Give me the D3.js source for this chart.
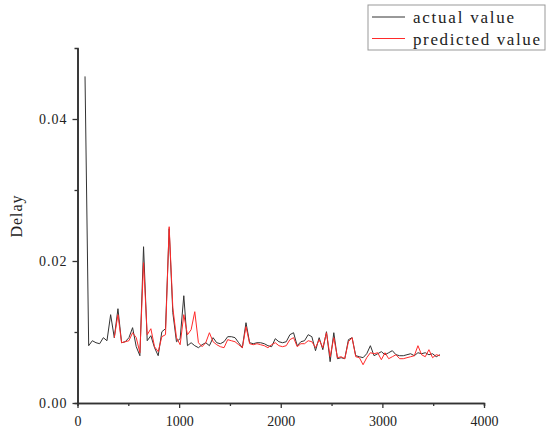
<!DOCTYPE html>
<html>
<head>
<meta charset="utf-8">
<script src="https://cdn.jsdelivr.net/npm/d3@7"></script>
<style>
  body { margin: 0; background: #fff; }
  text { font-family: "Liberation Serif", "DejaVu Serif", serif; fill: #222; }
</style>
</head>
<body>
<div id="chart"></div>
<script>
// x positions of the samples
var xValues = [74,110,146,182,218,254,290,326,362,398,434,470,506,542,578,614,650,686,722,758,
  794,830,866,902,938,974,1010,1046,1082,1118,1154,1190,1226,1262,1298,1334,1370,1406,1442,1478,
  1514,1550,1586,1622,1658,1694,1730,1766,1802,1838,1874,1910,1946,1982,2018,2054,2090,2126,2162,2198,
  2234,2270,2306,2342,2378,2414,2450,2486,2522,2558,2594,2630,2666,2702,2738,2774,2810,2846,2882,2918,
  2954,2990,3026,3062,3098,3134,3170,3206,3242,3278,3314,3350,3386,3422,3458,3494,3530,3566];

// actual value (black)
var actualValues = [0.0460,0.00807,0.00877,0.00849,0.00835,0.00920,0.00877,0.01244,0.00920,0.01328,
  0.00849,0.00863,0.00920,0.01061,0.00793,0.00666,0.02201,0.00877,0.00948,0.00779,
  0.00666,0.01004,0.01046,0.02455,0.01272,0.00863,0.00906,0.01511,0.00807,0.00849,
  0.00807,0.00779,0.00821,0.00849,0.00807,0.00920,0.00849,0.00835,0.00863,0.00934,
  0.00934,0.00920,0.00849,0.00779,0.01131,0.00849,0.00835,0.00849,0.00849,0.00835,
  0.00807,0.00793,0.00906,0.00863,0.00849,0.00863,0.00962,0.00990,0.00807,0.00863,
  0.00877,0.00962,0.00934,0.00737,0.00920,0.00751,0.01004,0.00582,0.00990,0.00624,
  0.00638,0.00624,0.00892,0.00920,0.00666,0.00652,0.00638,0.00694,0.00807,0.00666,
  0.00694,0.00723,0.00680,0.00708,0.00737,0.00680,0.00666,0.00666,0.00680,0.00694,
  0.00666,0.00708,0.00694,0.00708,0.00680,0.00694,0.00652,0.00680];

// predicted value (red), starts at the 9th sample
var predictedValues = [null,null,null,null,null,null,null,null,0.00920,0.01244,
  0.00849,0.00863,0.00877,0.00990,0.00920,0.00708,0.01976,0.00962,0.01046,0.00793,
  0.00723,0.00934,0.00962,0.02483,0.01342,0.00920,0.00821,0.01244,0.00962,0.01032,
  0.01286,0.00849,0.00793,0.00849,0.00990,0.00863,0.00821,0.00793,0.00779,0.00892,
  0.00877,0.00863,0.00821,0.00779,0.01075,0.00835,0.00821,0.00835,0.00821,0.00807,
  0.00779,0.00821,0.00849,0.00807,0.00793,0.00807,0.00892,0.00920,0.00793,0.00835,
  0.00835,0.00877,0.00863,0.00779,0.00892,0.00779,0.00990,0.00652,0.00920,0.00638,
  0.00652,0.00624,0.00863,0.00920,0.00652,0.00638,0.00539,0.00638,0.00708,0.00694,
  0.00708,0.00610,0.00708,0.00624,0.00652,0.00680,0.00624,0.00624,0.00638,0.00652,
  0.00666,0.00807,0.00680,0.00652,0.00751,0.00638,0.00680,0.00666];

var xTicks = [0, 1000, 2000, 3000, 4000];
var xMinorTicks = [500, 1500, 2500, 3500];
var yTicks = [0, 0.02, 0.04];
var yMinorTicks = [0.01, 0.03];
var seriesNames = ["actual value", "predicted value"];
var seriesColors = ["#333333", "#ff2a2a"];

var width = 550, height = 436;
var margin = {top: 48, right: 66, bottom: 33, left: 77.5};
var innerW = width - margin.left - margin.right;
var innerH = height - margin.top - margin.bottom;

var svg = d3.select("#chart").append("svg")
  .attr("width", width)
  .attr("height", height);

var g = svg.append("g")
  .attr("transform", "translate(" + margin.left + "," + margin.top + ")");

var x = d3.scaleLinear().domain([0, 4000]).range([0, innerW]);
var y = d3.scaleLinear().domain([0, 0.05]).range([innerH, 0]);

// minor ticks
g.append("g")
  .attr("class", "axis")
  .attr("transform", "translate(0," + innerH + ")")
  .call(d3.axisBottom(x).tickValues(xMinorTicks).tickSize(3).tickFormat(""));
g.append("g")
  .attr("class", "axis")
  .call(d3.axisLeft(y).tickValues(yMinorTicks).tickSize(3).tickFormat(""));

// major ticks
g.append("g")
  .attr("class", "axis")
  .attr("transform", "translate(0," + innerH + ")")
  .call(d3.axisBottom(x).tickValues(xTicks).tickSize(5).tickSizeOuter(0).tickPadding(8).tickFormat(d3.format("d")))
  .selectAll("text")
  .attr("font-size", "14px");

g.append("g")
  .attr("class", "axis")
  .call(d3.axisLeft(y).tickValues(yTicks).tickSize(5).tickSizeOuter(0).tickPadding(5).tickFormat(d3.format(".2f")))
  .selectAll("text")
  .attr("font-size", "14px")
  .attr("letter-spacing", "1px");

g.selectAll(".axis path.domain").attr("stroke", "#333").attr("stroke-width", 1.6);
g.selectAll(".axis .tick line").attr("stroke", "#333").attr("stroke-width", 1.3);
g.selectAll(".axis text").attr("fill", "#222").attr("font-family", "Liberation Serif");

// lines
var allSeries = [actualValues, predictedValues];
allSeries.forEach(function(vals, k) {
  var line = d3.line()
    .defined(function(d, i) { return vals[i] != null; })
    .x(function(d, i) { return x(xValues[i]); })
    .y(function(d, i) { return y(vals[i]); });
  g.append("path")
    .datum(vals)
    .attr("fill", "none")
    .attr("stroke", seriesColors[k])
    .attr("stroke-width", 1)
    .attr("d", line);
});

// y axis title
svg.append("text")
  .attr("transform", "translate(22," + 216 + ") rotate(-90)")
  .attr("text-anchor", "middle")
  .attr("font-size", "16px")
  .attr("letter-spacing", "1px")
  .text("Delay");

// legend
var legend = svg.append("g").attr("transform", "translate(368,5)");
legend.append("rect")
  .attr("width", 177).attr("height", 45)
  .attr("fill", "#fff")
  .attr("stroke", "#999").attr("stroke-width", 1);
var textLengths = [101, 127];
seriesNames.forEach(function(name, k) {
  var yy = 12 + k * 21.5;
  legend.append("line")
    .attr("x1", 4).attr("x2", 37)
    .attr("y1", yy).attr("y2", yy)
    .attr("stroke", seriesColors[k]).attr("stroke-width", 1);
  legend.append("text")
    .attr("x", 45).attr("y", yy + 6)
    .attr("font-size", "17px")
    .attr("textLength", textLengths[k])
    .attr("lengthAdjust", "spacing")
    .text(name);
});
</script>
</body>
</html>
